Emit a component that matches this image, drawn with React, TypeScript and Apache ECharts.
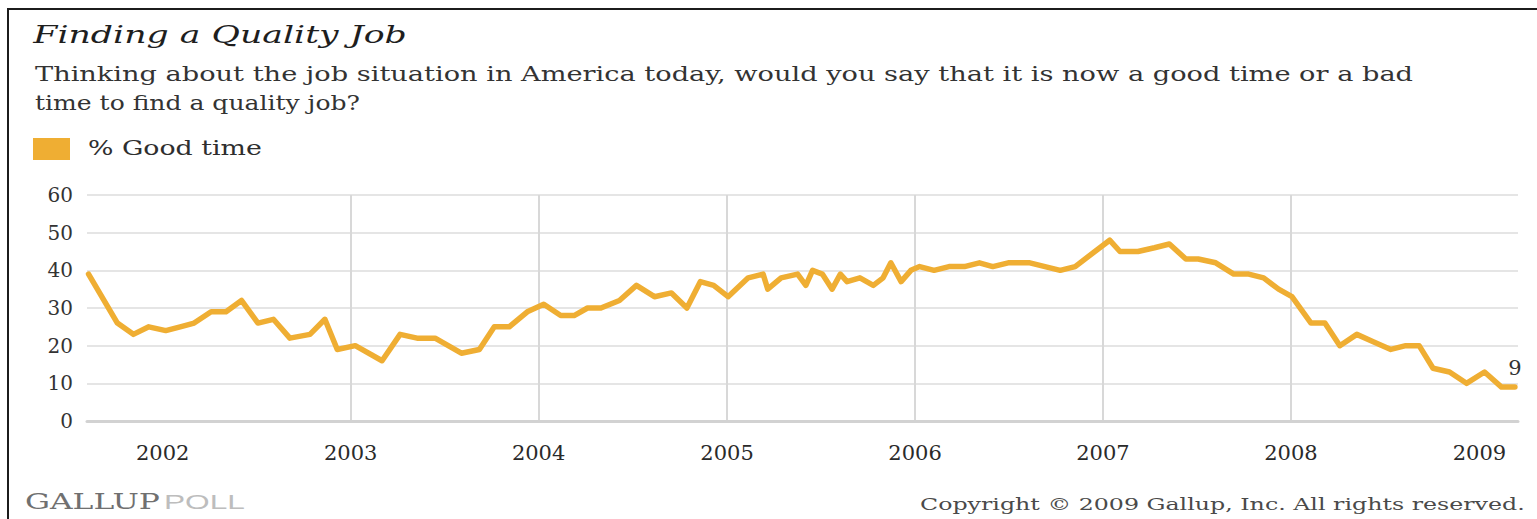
import React, { useEffect, useRef } from "react";
import * as echarts from "echarts";

// ---------- data ----------
const dates: string[] = [
  "2001-08-10", "2001-10-05", "2001-11-05", "2001-12-05",
  "2002-01-07", "2002-02-04", "2002-03-03", "2002-04-05", "2002-05-04", "2002-06-03",
  "2002-07-05", "2002-08-04", "2002-09-05", "2002-10-14", "2002-11-12", "2002-12-06",
  "2003-01-10", "2003-03-03", "2003-04-07", "2003-05-10", "2003-06-14", "2003-08-04",
  "2003-09-08", "2003-10-07", "2003-11-05", "2003-12-10",
  "2004-01-11", "2004-02-13", "2004-03-10", "2004-04-05", "2004-05-01", "2004-06-06",
  "2004-07-09", "2004-08-13", "2004-09-15", "2004-10-15", "2004-11-10", "2004-12-06",
  "2005-01-03", "2005-02-11", "2005-03-12", "2005-03-21", "2005-04-16", "2005-05-18",
  "2005-06-03", "2005-06-16", "2005-07-05", "2005-07-24", "2005-08-09", "2005-08-22",
  "2005-09-16", "2005-10-12", "2005-10-31", "2005-11-15", "2005-12-05", "2005-12-24",
  "2006-01-10", "2006-02-07", "2006-03-08", "2006-04-07", "2006-05-06", "2006-06-01",
  "2006-07-01", "2006-08-12", "2006-10-10", "2006-11-08",
  "2007-01-14", "2007-02-03", "2007-03-10", "2007-04-11", "2007-05-10", "2007-06-11",
  "2007-07-05", "2007-08-08", "2007-09-12", "2007-10-11", "2007-11-09", "2007-12-08",
  "2008-01-03", "2008-02-09", "2008-03-07", "2008-04-05", "2008-05-08", "2008-06-10",
  "2008-07-13", "2008-08-11", "2008-09-06", "2008-10-03", "2008-11-04", "2008-12-07",
  "2009-01-11", "2009-02-13", "2009-03-11",
];

const goodTime: number[] = [
  39, 26, 23, 25,
  24, 25, 26, 29, 29, 32,
  26, 27, 22, 23, 27, 19,
  20, 16, 23, 22, 22, 18,
  19, 25, 25, 29,
  31, 28, 28, 30, 30, 32,
  36, 33, 34, 30, 37, 36,
  33, 38, 39, 35, 38, 39,
  36, 40, 39, 35, 39, 37,
  38, 36, 38, 42, 37, 40,
  41, 40, 41, 41, 42, 41,
  42, 42, 40, 41,
  48, 45, 45, 46, 47, 43,
  43, 42, 39, 39, 38, 35,
  33, 26, 26, 20, 23, 21,
  19, 20, 20, 14, 13, 10,
  13, 9, 9,
];

const yearTicks: string[] = [
  "2002-01-01", "2003-01-01", "2004-01-01", "2005-01-01",
  "2006-01-01", "2007-01-01", "2008-01-01", "2009-01-01",
];

const yTicks: number[] = [0, 10, 20, 30, 40, 50, 60];

const xMin = "2001-08-07";
const xMax = "2009-03-17";

const seriesName = "% Good time";
const titleText = "Finding a Quality Job";
const subtitleLine1 =
  "Thinking about the job situation in America today, would you say that it is now a good time or a bad";
const subtitleLine2 = "time to find a quality job?";
const brandDark = "GALLUP";
const brandLight = "POLL";
const copyrightText = "Copyright \u00A9 2009 Gallup, Inc. All rights reserved.";

// ---------- helpers ----------
const toMs = (d: string) => Date.parse(d + "T00:00:00Z");

const SERIF = '"DejaVu Serif", serif';
const SANS = '"Liberation Sans", Arial, sans-serif';
const LINE_COLOR = "#EFAE33";

let measureCtx: CanvasRenderingContext2D | null = null;
function textWidth(text: string, size: number, family: string, style = "normal", weight = "normal") {
  if (!measureCtx) measureCtx = document.createElement("canvas").getContext("2d");
  if (!measureCtx) return text.length * size * 0.6;
  measureCtx.font = `${style} ${weight} ${size}px ${family}`;
  return measureCtx.measureText(text).width;
}

function fitText(
  text: string,
  left: number,
  right: number,
  baseline: number,
  size: number,
  family: string,
  fill: string,
  fontStyle = "normal"
) {
  const w = textWidth(text, size, family, fontStyle);
  const s = (right - left) / w;
  return {
    type: "text",
    x: left,
    y: baseline - 0.346 * size,
    scaleX: s,
    silent: true,
    style: {
      text,
      fill,
      fontSize: size,
      fontFamily: family,
      fontStyle,
      align: "left",
      verticalAlign: "middle",
    },
  };
}

export default function App() {
  const ref = useRef<HTMLDivElement>(null);

  useEffect(() => {
    if (!ref.current) return;
    const chart = echarts.init(ref.current, undefined, { renderer: "svg" });

    const lastIdx = dates.length - 1;
    const data = dates.map((d, i) => {
      const item: any = { value: [toMs(d), goodTime[i]] };
      if (i === lastIdx) {
        item.label = {
          show: true,
          position: "top",
          distance: 9,
          formatter: String(goodTime[i]),
          fontFamily: SERIF,
          fontSize: 21,
          color: "#333",
        };
      }
      return item;
    });

    const yearMs = yearTicks.map(toMs);

    const option: any = {
      animation: false,
      backgroundColor: "#ffffff",
      grid: {
        left: 87,
        right: 19,
        top: 195,
        bottom: 98,
        containLabel: false,
        outerBoundsMode: "none",
      },
      xAxis: {
        type: "value",
        min: toMs(xMin),
        max: toMs(xMax),
        axisLine: { show: true, onZero: false, lineStyle: { color: "#d2d2d2", width: 3 } },
        axisTick: { show: false, customValues: yearMs },
        axisLabel: {
          customValues: yearMs,
          formatter: (v: number) => String(new Date(v).getUTCFullYear()),
          margin: 21,
          fontFamily: SERIF,
          fontSize: 21,
          color: "#2a2a2a",
        },
        splitLine: {
          show: true,
          showMinLine: false,
          showMaxLine: false,
          lineStyle: { color: "#d8d8d8", width: 2 },
        },
      },
      yAxis: {
        type: "value",
        min: yTicks[0],
        max: yTicks[yTicks.length - 1],
        interval: 10,
        axisLine: { show: false },
        axisTick: { show: false },
        axisLabel: {
          margin: 14,
          fontFamily: SERIF,
          fontSize: 20,
          color: "#333",
        },
        splitLine: { show: true, lineStyle: { color: "#dcdcdc", width: 1.5 } },
      },
      series: [
        {
          name: seriesName,
          type: "line",
          data,
          symbol: "circle",
          symbolSize: 0,
          showSymbol: true,
          showAllSymbol: true,
          itemStyle: { color: LINE_COLOR },
          lineStyle: { color: LINE_COLOR, width: 5.5, join: "round", cap: "round" },
          emphasis: { disabled: true },
          silent: true,
          clip: false,
        },
      ],
      graphic: [
        { type: "line", silent: true, shape: { x1: 8, y1: 9, x2: 1537, y2: 9 }, style: { stroke: "#1c1c1c", lineWidth: 2 } },
        { type: "line", silent: true, shape: { x1: 8, y1: 8, x2: 8, y2: 519 }, style: { stroke: "#1c1c1c", lineWidth: 2 } },
        fitText(titleText, 33.3, 407, 43.3, 24, SERIF, "#1e1e1e", "italic"),
        fitText(subtitleLine1, 35, 1413, 81.7, 20.5, SERIF, "#333"),
        fitText(subtitleLine2, 35, 360, 110, 20.5, SERIF, "#333"),
        {
          type: "rect",
          silent: true,
          shape: { x: 33, y: 138, width: 37, height: 22 },
          style: { fill: LINE_COLOR },
        },
        fitText(seriesName, 88, 262, 155, 20, SERIF, "#2e2e2e"),
        fitText(brandDark, 25, 160, 509, 22, SERIF, "#707070"),
        fitText(brandLight, 164, 245, 509, 21, SANS, "#bdbdbd"),
        fitText(copyrightText, 920, 1525, 510, 17, SERIF, "#4a4a4a"),
      ],
    };

    chart.setOption(option);
    return () => chart.dispose();
  }, []);

  return (
    <div
      ref={ref}
      style={{ position: "fixed", left: 0, top: 0, width: 1537, height: 519, background: "#fff" }}
    />
  );
}
